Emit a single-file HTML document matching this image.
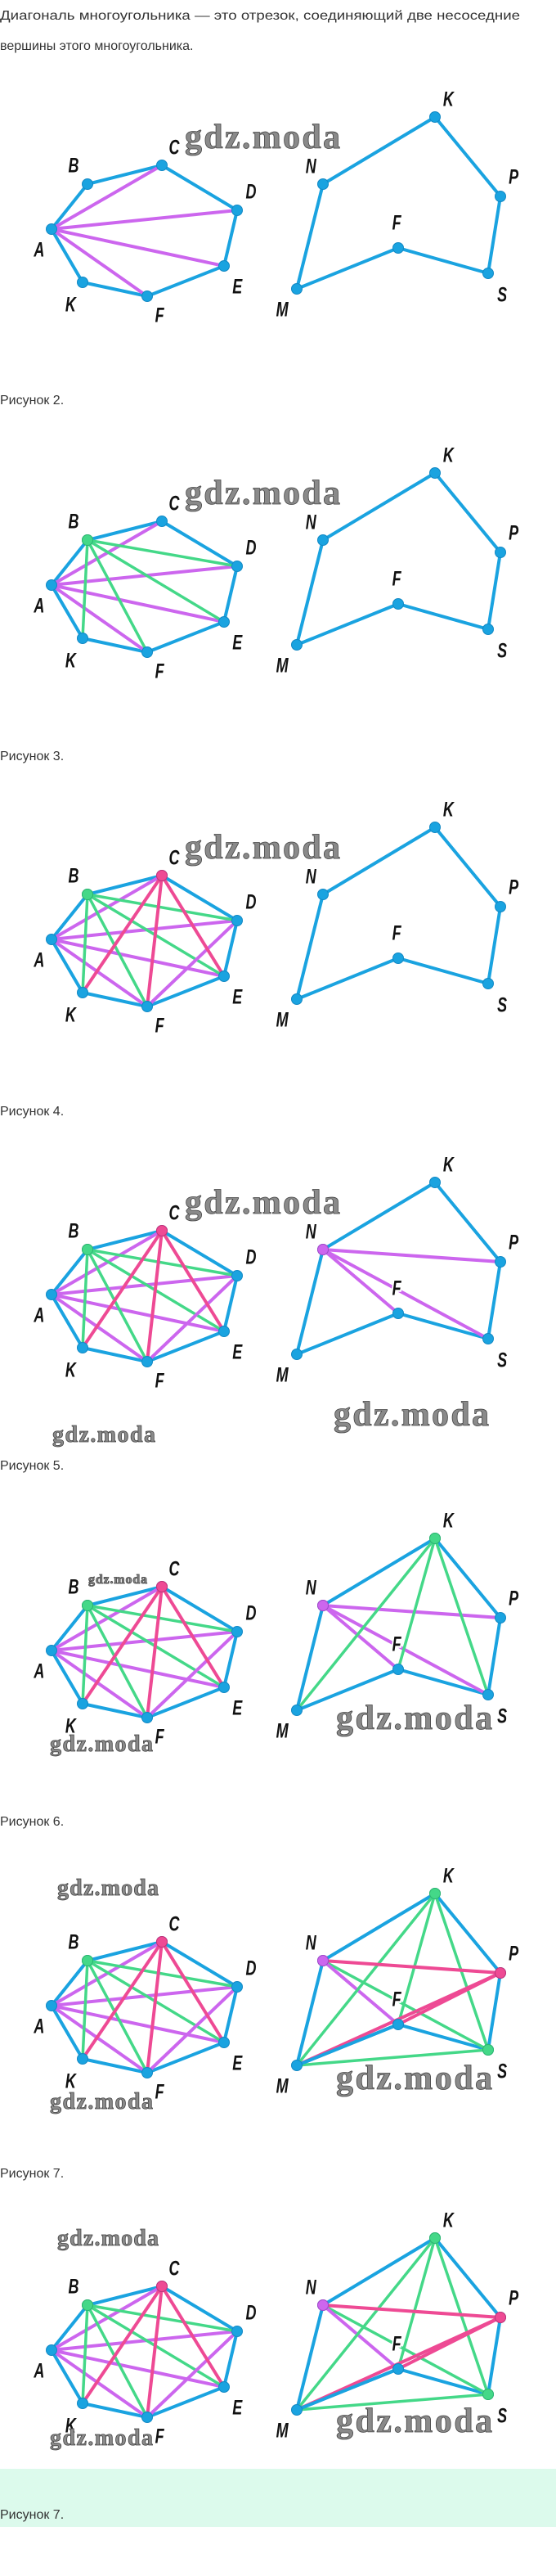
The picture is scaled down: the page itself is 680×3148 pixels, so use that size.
<!DOCTYPE html>
<html><head><meta charset="utf-8"><style>
html,body{margin:0;padding:0;background:#fff;width:680px;height:3148px;overflow:hidden}
svg{display:block}
.t{font-family:"Liberation Sans",sans-serif;font-size:16px;fill:#333}
.l{font-family:"Liberation Sans Narrow","Liberation Sans",sans-serif;font-style:italic;font-weight:bold;font-size:25px;fill:#111;text-anchor:middle;dominant-baseline:central;transform-box:fill-box;transform-origin:center;transform:scaleX(0.72)}
.lh{stroke:#fff;stroke-width:5px;paint-order:stroke}
.w{font-family:"Liberation Serif",serif;font-weight:bold;fill:#8a8a8a;stroke:#444;stroke-width:0.8px}
.b{stroke:#1aa3e0;stroke-width:4;fill:none;stroke-linejoin:round}
.pu{stroke:#cc66ee;stroke-width:4}
.gr{stroke:#44d888;stroke-width:3.5}
.pk{stroke:#ee4a94;stroke-width:4}
</style></head><body>
<svg width="680" height="3148" viewBox="0 0 680 3148" xmlns="http://www.w3.org/2000/svg">
<defs>
<g id="lpoly"><polygon class="b" points="63,280 107,225 198,202 290,257 274,325 180,362 101,345"/></g>
<g id="rpoly"><polygon class="b" points="532,143 612,240 597,334 487,303 363,353 395,225"/></g>
<g id="ldiag1"><line class="pu" x1="63" y1="280" x2="198" y2="202"/><line class="pu" x1="63" y1="280" x2="290" y2="257"/><line class="pu" x1="63" y1="280" x2="274" y2="325"/><line class="pu" x1="63" y1="280" x2="180" y2="362"/></g>
<g id="ldiag2"><use href="#ldiag1"/><line class="gr" x1="107" y1="225" x2="290" y2="257"/><line class="gr" x1="107" y1="225" x2="274" y2="325"/><line class="gr" x1="107" y1="225" x2="180" y2="362"/><line class="gr" x1="107" y1="225" x2="101" y2="345"/></g>
<g id="ldiag3"><use href="#ldiag2"/><line class="pu" x1="290" y1="257" x2="180" y2="362"/><line class="pk" x1="198" y1="202" x2="274" y2="325"/><line class="pk" x1="198" y1="202" x2="180" y2="362"/><line class="pk" x1="198" y1="202" x2="101" y2="345"/></g>
<g id="lnodes1" stroke="#1288c4" stroke-width="1"><circle cx="63" cy="280" r="6.5" fill="#1aa3e0"/><circle cx="107" cy="225" r="6.5" fill="#1aa3e0"/><circle cx="198" cy="202" r="6.5" fill="#1aa3e0"/><circle cx="290" cy="257" r="6.5" fill="#1aa3e0"/><circle cx="274" cy="325" r="6.5" fill="#1aa3e0"/><circle cx="180" cy="362" r="6.5" fill="#1aa3e0"/><circle cx="101" cy="345" r="6.5" fill="#1aa3e0"/></g>
<g id="rnodes" stroke="#1288c4" stroke-width="1"><circle cx="532" cy="143" r="6.5" fill="#1aa3e0"/><circle cx="395" cy="225" r="6.5" fill="#1aa3e0"/><circle cx="612" cy="240" r="6.5" fill="#1aa3e0"/><circle cx="597" cy="334" r="6.5" fill="#1aa3e0"/><circle cx="487" cy="303" r="6.5" fill="#1aa3e0"/><circle cx="363" cy="353" r="6.5" fill="#1aa3e0"/></g>
<g id="rdiag4"><line class="pu" x1="395" y1="225" x2="612" y2="240"/><line class="pu" x1="395" y1="225" x2="487" y2="303"/><line class="pu" x1="395" y1="225" x2="597" y2="334"/></g>
<g id="rdiag5"><use href="#rdiag4"/><line class="gr" x1="532" y1="143" x2="363" y2="353"/><line class="gr" x1="532" y1="143" x2="487" y2="303"/><line class="gr" x1="532" y1="143" x2="597" y2="334"/></g>
<g id="rdiag6"><line class="gr" x1="395" y1="225" x2="597" y2="334"/><line class="gr" x1="363" y1="353" x2="597" y2="334"/><line class="pu" x1="395" y1="225" x2="487" y2="303"/><line class="gr" x1="532" y1="143" x2="363" y2="353"/><line class="gr" x1="532" y1="143" x2="487" y2="303"/><line class="gr" x1="532" y1="143" x2="597" y2="334"/><line class="pk" x1="395" y1="225" x2="612" y2="240"/><line class="pk" x1="363" y1="353" x2="612" y2="240"/><line class="pk" x1="487" y1="303" x2="612" y2="240" stroke-width="6.5"/><line class="b" x1="363" y1="353" x2="487" y2="303"/></g>
</defs>

<text class="t" x="0" y="24" textLength="636" lengthAdjust="spacingAndGlyphs">Диагональ многоугольника — это отрезок, соединяющий две несоседние</text>
<text class="t" x="0" y="61">вершины этого многоугольника.</text>

<text class="t" x="0" y="494">Рисунок 2.</text>
<text class="t" x="0" y="929">Рисунок 3.</text>
<text class="t" x="0" y="1363">Рисунок 4.</text>
<text class="t" x="0" y="1796">Рисунок 5.</text>
<text class="t" x="0" y="2231">Рисунок 6.</text>
<text class="t" x="0" y="2661">Рисунок 7.</text>
<rect x="0" y="3017" width="680" height="71" fill="#dcfaec"/>
<text class="t" x="0" y="3078">Рисунок 7.</text>

<g transform="translate(0,0)">
<use href="#lpoly"/><use href="#ldiag1"/><use href="#lnodes1"/>
<use href="#rpoly"/><use href="#rnodes"/>
<text class="l" x="48" y="305">A</text><text class="l" x="90" y="202">B</text><text class="l" x="213" y="180">C</text><text class="l" x="307" y="234">D</text><text class="l" x="290" y="350">E</text><text class="l" x="195" y="385">F</text><text class="l" x="86" y="372">K</text>
<text class="l" x="548" y="121">K</text><text class="l" x="380" y="203">N</text><text class="l" x="628" y="216">P</text><text class="l" x="614" y="360">S</text><text class="l lh" x="485" y="272">F</text><text class="l" x="345" y="378">M</text>
<text class="w" x="226" y="181" font-size="42" textLength="190">gdz.moda</text>
</g>

<g transform="translate(0,435)">
<use href="#lpoly"/><use href="#ldiag2"/><use href="#lnodes1"/><circle cx="107" cy="225" r="6.5" fill="#44d888" stroke="#2fb86c"/>
<use href="#rpoly"/><use href="#rnodes"/>
<text class="l" x="48" y="305">A</text><text class="l" x="90" y="202">B</text><text class="l" x="213" y="180">C</text><text class="l" x="307" y="234">D</text><text class="l" x="290" y="350">E</text><text class="l" x="195" y="385">F</text><text class="l" x="86" y="372">K</text>
<text class="l" x="548" y="121">K</text><text class="l" x="380" y="203">N</text><text class="l" x="628" y="216">P</text><text class="l" x="614" y="360">S</text><text class="l lh" x="485" y="272">F</text><text class="l" x="345" y="378">M</text>
<text class="w" x="226" y="181" font-size="42" textLength="190">gdz.moda</text>
</g>

<g transform="translate(0,868)">
<use href="#lpoly"/><use href="#ldiag3"/><use href="#lnodes1"/><circle cx="107" cy="225" r="6.5" fill="#44d888" stroke="#2fb86c"/><circle cx="198" cy="202" r="6.5" fill="#ee4a94" stroke="#c83078"/>
<use href="#rpoly"/><use href="#rnodes"/>
<text class="l" x="48" y="305">A</text><text class="l" x="90" y="202">B</text><text class="l" x="213" y="180">C</text><text class="l" x="307" y="234">D</text><text class="l" x="290" y="350">E</text><text class="l" x="195" y="385">F</text><text class="l" x="86" y="372">K</text>
<text class="l" x="548" y="121">K</text><text class="l" x="380" y="203">N</text><text class="l" x="628" y="216">P</text><text class="l" x="614" y="360">S</text><text class="l lh" x="485" y="272">F</text><text class="l" x="345" y="378">M</text>
<text class="w" x="226" y="181" font-size="42" textLength="190">gdz.moda</text>
</g>

<g transform="translate(0,1302)">
<use href="#lpoly"/><use href="#ldiag3"/><use href="#lnodes1"/><circle cx="107" cy="225" r="6.5" fill="#44d888" stroke="#2fb86c"/><circle cx="198" cy="202" r="6.5" fill="#ee4a94" stroke="#c83078"/>
<use href="#rpoly"/><use href="#rdiag4"/><use href="#rnodes"/><circle cx="395" cy="225" r="6.5" fill="#cc66ee" stroke="#a748c8"/>
<text class="l" x="48" y="305">A</text><text class="l" x="90" y="202">B</text><text class="l" x="213" y="180">C</text><text class="l" x="307" y="234">D</text><text class="l" x="290" y="350">E</text><text class="l" x="195" y="385">F</text><text class="l" x="86" y="372">K</text>
<text class="l" x="548" y="121">K</text><text class="l" x="380" y="203">N</text><text class="l" x="628" y="216">P</text><text class="l" x="614" y="360">S</text><text class="l lh" x="485" y="272">F</text><text class="l" x="345" y="378">M</text>
<text class="w" x="226" y="181" font-size="42" textLength="190">gdz.moda</text>
<text class="w" x="408" y="440" font-size="42" textLength="190">gdz.moda</text>
<text class="w" x="64" y="460" font-size="28" textLength="126">gdz.moda</text>
</g>

<g transform="translate(0,1737)">
<use href="#lpoly"/><use href="#ldiag3"/><use href="#lnodes1"/><circle cx="107" cy="225" r="6.5" fill="#44d888" stroke="#2fb86c"/><circle cx="198" cy="202" r="6.5" fill="#ee4a94" stroke="#c83078"/>
<use href="#rpoly"/><use href="#rdiag5"/><use href="#rnodes"/><circle cx="395" cy="225" r="6.5" fill="#cc66ee" stroke="#a748c8"/><circle cx="532" cy="143" r="6.5" fill="#44d888" stroke="#2fb86c"/>
<text class="l" x="48" y="305">A</text><text class="l" x="90" y="202">B</text><text class="l" x="213" y="180">C</text><text class="l" x="307" y="234">D</text><text class="l" x="290" y="350">E</text><text class="l" x="195" y="385">F</text><text class="l" x="86" y="372">K</text>
<text class="l" x="548" y="121">K</text><text class="l" x="380" y="203">N</text><text class="l" x="628" y="216">P</text><text class="l" x="614" y="360">S</text><text class="l lh" x="485" y="272">F</text><text class="l" x="345" y="378">M</text>
<text class="w" x="108" y="198" font-size="16" stroke-width="0.3" textLength="72">gdz.moda</text>
<text class="w" x="61" y="403" font-size="28" textLength="126">gdz.moda</text>
<text class="w" x="411" y="376" font-size="42" textLength="191">gdz.moda</text>
</g>

<g transform="translate(0,2171)">
<use href="#lpoly"/><use href="#ldiag3"/><use href="#lnodes1"/><circle cx="107" cy="225" r="6.5" fill="#44d888" stroke="#2fb86c"/><circle cx="198" cy="202" r="6.5" fill="#ee4a94" stroke="#c83078"/>
<use href="#rpoly"/><use href="#rdiag6"/><use href="#rnodes"/><circle cx="395" cy="225" r="6.5" fill="#cc66ee" stroke="#a748c8"/><circle cx="532" cy="143" r="6.5" fill="#44d888" stroke="#2fb86c"/><circle cx="612" cy="240" r="6.5" fill="#ee4a94" stroke="#c83078"/><circle cx="597" cy="334" r="6.5" fill="#44d888" stroke="#2fb86c"/>
<text class="l" x="48" y="305">A</text><text class="l" x="90" y="202">B</text><text class="l" x="213" y="180">C</text><text class="l" x="307" y="234">D</text><text class="l" x="290" y="350">E</text><text class="l" x="195" y="385">F</text><text class="l" x="86" y="372">K</text>
<text class="l" x="548" y="121">K</text><text class="l" x="380" y="203">N</text><text class="l" x="628" y="216">P</text><text class="l" x="614" y="360">S</text><text class="l lh" x="485" y="272">F</text><text class="l" x="345" y="378">M</text>
<text class="w" x="70" y="145" font-size="28" textLength="124">gdz.moda</text>
<text class="w" x="61" y="406" font-size="28" textLength="126">gdz.moda</text>
<text class="w" x="411" y="382" font-size="42" textLength="191">gdz.moda</text>
</g>

<g transform="translate(0,2592)">
<use href="#lpoly"/><use href="#ldiag3"/><use href="#lnodes1"/><circle cx="107" cy="225" r="6.5" fill="#44d888" stroke="#2fb86c"/><circle cx="198" cy="202" r="6.5" fill="#ee4a94" stroke="#c83078"/>
<use href="#rpoly"/><use href="#rdiag6"/><use href="#rnodes"/><circle cx="395" cy="225" r="6.5" fill="#cc66ee" stroke="#a748c8"/><circle cx="532" cy="143" r="6.5" fill="#44d888" stroke="#2fb86c"/><circle cx="612" cy="240" r="6.5" fill="#ee4a94" stroke="#c83078"/><circle cx="597" cy="334" r="6.5" fill="#44d888" stroke="#2fb86c"/>
<text class="l" x="48" y="305">A</text><text class="l" x="90" y="202">B</text><text class="l" x="213" y="180">C</text><text class="l" x="307" y="234">D</text><text class="l" x="290" y="350">E</text><text class="l" x="195" y="385">F</text><text class="l" x="86" y="372">K</text>
<text class="l" x="548" y="121">K</text><text class="l" x="380" y="203">N</text><text class="l" x="628" y="216">P</text><text class="l" x="614" y="360">S</text><text class="l lh" x="485" y="272">F</text><text class="l" x="345" y="378">M</text>
<text class="w" x="70" y="152" font-size="28" textLength="124">gdz.moda</text>
<text class="w" x="61" y="396" font-size="28" textLength="126">gdz.moda</text>
<text class="w" x="411" y="380" font-size="42" textLength="191">gdz.moda</text>
</g>
</svg>
</body></html>
